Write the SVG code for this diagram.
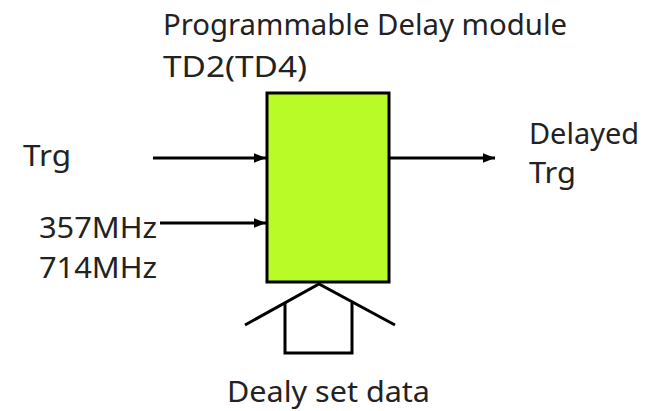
<svg xmlns="http://www.w3.org/2000/svg" width="651" height="411" viewBox="0 0 651 411">
<style>
text{font-family:"Noto Sans","DejaVu Sans","Liberation Sans",sans-serif;font-size:29px;fill:#222}
.ln{stroke:#000;stroke-width:3;fill:none}
</style>
<defs>
<marker id="ah" viewBox="0 0 10 10" refX="10" refY="5" markerWidth="4" markerHeight="4" orient="auto" markerUnits="strokeWidth">
<path d="M0,1 L10,5 L0,9 z" fill="#000"/>
</marker>
</defs>
<rect width="651" height="411" fill="#fff"/>
<g id="title">
<text x="163" y="35" textLength="404" lengthAdjust="spacingAndGlyphs">Programmable Delay module</text>
<text x="163" y="77" textLength="144" lengthAdjust="spacingAndGlyphs">TD2(TD4)</text>
</g>
<g id="module">
<rect x="267" y="93" width="122" height="189" fill="#b9fb26" stroke="#000" stroke-width="3"/>
</g>
<g id="trg-in"><text x="23" y="166" textLength="48" lengthAdjust="spacingAndGlyphs">Trg</text></g>
<g id="clk-in"><text x="39" y="238" textLength="118" lengthAdjust="spacingAndGlyphs">357MHz</text><text x="39" y="278" textLength="118" lengthAdjust="spacingAndGlyphs">714MHz</text></g>
<g id="out"><text x="529" y="144" textLength="110" lengthAdjust="spacingAndGlyphs">Delayed</text><text x="529" y="183" textLength="47" lengthAdjust="spacingAndGlyphs">Trg</text></g>
<g id="data">
<path class="ln" d="M285,303 L285,353 L352,353 L352,303"/>
<text x="227" y="402" textLength="203" lengthAdjust="spacingAndGlyphs">Dealy set data</text>
</g>
<g id="connectors">
<line class="ln" x1="153" y1="158" x2="266" y2="158" marker-end="url(#ah)"/>
<line class="ln" x1="160" y1="223" x2="266" y2="223" marker-end="url(#ah)"/>
<line class="ln" x1="389" y1="158" x2="495" y2="158" marker-end="url(#ah)"/>
<path class="ln" d="M245,325 L319,284 L395,325"/>
</g>
</svg>
